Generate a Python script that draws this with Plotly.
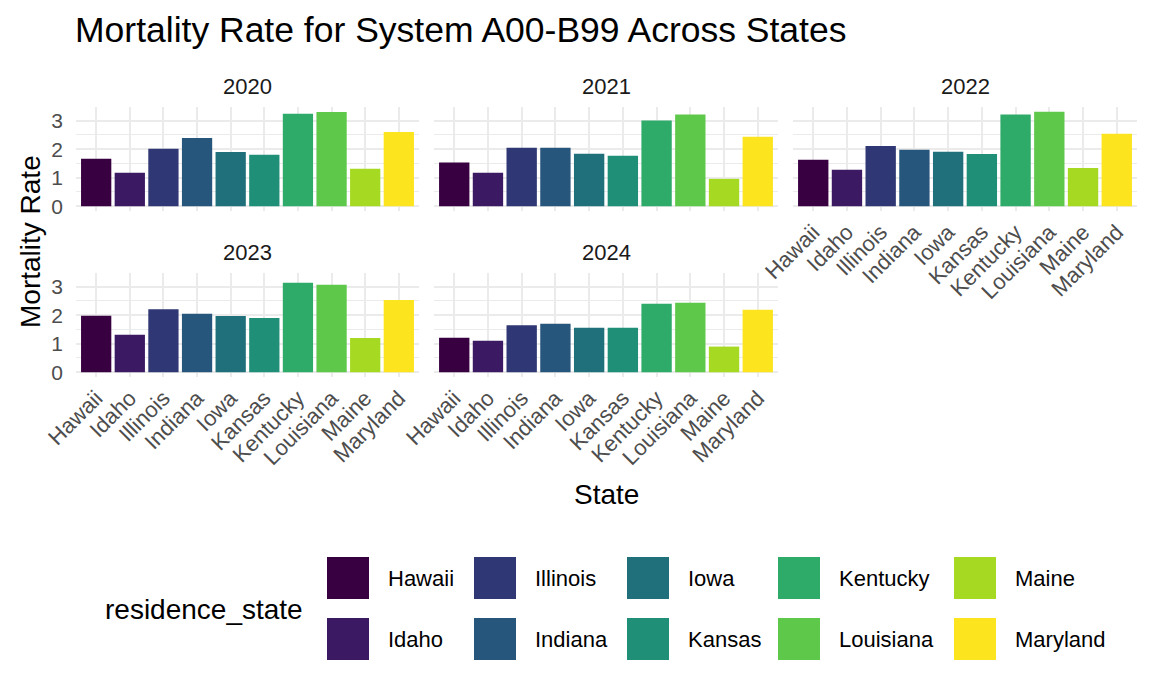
import plotly.graph_objects as go

# ---------------- data ----------------
states = ["Hawaii", "Idaho", "Illinois", "Indiana", "Iowa",
          "Kansas", "Kentucky", "Louisiana", "Maine", "Maryland"]
years = ["2020", "2021", "2022", "2023", "2024"]
rate_2020 = [1.66, 1.17, 2.01, 2.39, 1.90, 1.80, 3.24, 3.30, 1.31, 2.60]
rate_2021 = [1.53, 1.17, 2.05, 2.05, 1.84, 1.77, 3.00, 3.21, 0.96, 2.43]
rate_2022 = [1.63, 1.28, 2.11, 1.98, 1.91, 1.83, 3.21, 3.31, 1.34, 2.54]
rate_2023 = [1.98, 1.31, 2.21, 2.05, 1.97, 1.90, 3.13, 3.06, 1.20, 2.53]
rate_2024 = [1.21, 1.10, 1.65, 1.70, 1.56, 1.56, 2.40, 2.43, 0.90, 2.19]
rates = [rate_2020, rate_2021, rate_2022, rate_2023, rate_2024]
y_ticks = [0, 1, 2, 3]

# ---------------- style ----------------
colors = ["#380041", "#3b1a63", "#2f3774", "#27567c", "#1f707a",
          "#1f8f78", "#2fab69", "#5ec84a", "#a6da22", "#fce51e"]
W, H = 1152, 691
FONT = "Liberation Sans, Arial, Helvetica, sans-serif"
GRID = "#EBEBEB"

col_px = [(76, 419), (434, 778), (793, 1137)]
row_px = [(107, 211), (273, 377)]
panel_pos = [(0, 0), (0, 1), (0, 2), (1, 0), (1, 1)]  # (row, col) for each year

ymax = max(max(r) for r in rates)
y_range = [-0.05 * ymax, ymax * 1.05]

fig = go.Figure()
layout = {}
annotations = []

for i, (yr, vals) in enumerate(zip(years, rates)):
    r, c = panel_pos[i]
    n = i + 1
    xa = "x" if n == 1 else f"x{n}"
    ya = "y" if n == 1 else f"y{n}"
    fig.add_trace(go.Bar(
        x=states, y=vals, xaxis=xa, yaxis=ya,
        marker=dict(color=colors, line=dict(width=0)),
        showlegend=False,
        hovertemplate="%{x}: %{y}<extra>" + yr + "</extra>",
    ))
    x0, x1 = col_px[c]
    t, b = row_px[r]
    has_below = any(p == (r + 1, c) for p in panel_pos)
    layout["xaxis" if n == 1 else f"xaxis{n}"] = dict(
        domain=[x0 / W, x1 / W], anchor=ya, automargin=False,
        type="category", categoryorder="array", categoryarray=states,
        range=[-0.6, len(states) - 0.4],
        showgrid=True, gridcolor=GRID, gridwidth=2,
        showline=False, zeroline=False, ticks="",
        showticklabels=not has_below, tickangle=-45,
        tickfont=dict(family=FONT, size=22, color="#4D4D4D"),
        ticklabelstandoff=3,
        fixedrange=True,
    )
    layout["yaxis" if n == 1 else f"yaxis{n}"] = dict(
        domain=[1 - b / H, 1 - t / H], anchor=xa, automargin=False,
        range=y_range, tickvals=y_ticks,
        showgrid=True, gridcolor=GRID, gridwidth=2,
        minor=dict(dtick=0.5, tick0=0, showgrid=True, gridcolor=GRID, gridwidth=1),
        zeroline=False, showline=False, ticks="",
        showticklabels=(c == 0),
        tickfont=dict(family=FONT, size=21, color="#4D4D4D"),
        ticklabelstandoff=12,
        fixedrange=True,
    )
    annotations.append(dict(
        text=yr, x=(x0 + x1) / 2 / W, y=1 - (t - 21) / H,
        xref="paper", yref="paper", xanchor="center", yanchor="middle",
        showarrow=False, font=dict(family=FONT, size=22, color="#1A1A1A"),
    ))

# axis titles
annotations.append(dict(
    text="State", x=606 / W, y=1 - 494 / H, xref="paper", yref="paper",
    xanchor="center", yanchor="middle", showarrow=False,
    font=dict(family=FONT, size=28, color="black"),
))
annotations.append(dict(
    text="Mortality Rate", x=30 / W, y=1 - 242 / H, xref="paper", yref="paper",
    xanchor="center", yanchor="middle", showarrow=False, textangle=-90,
    font=dict(family=FONT, size=28, color="black"),
))

# legend (drawn manually, ggplot style, column-major 2 rows)
shapes = []
leg_cols_px = [327, 474, 627, 778, 954]
leg_rows_px = [557, 618]
key = 42
annotations.append(dict(
    text="residence_state", x=103 / W, y=1 - 609 / H, xref="paper", yref="paper",
    xanchor="left", yanchor="middle", showarrow=False,
    font=dict(family=FONT, size=28, color="black"),
))
for k, (st, colr) in enumerate(zip(states, colors)):
    cc, rr = k // 2, k % 2
    lx = leg_cols_px[cc]
    ty = leg_rows_px[rr]
    shapes.append(dict(
        type="rect", xref="paper", yref="paper",
        x0=lx / W, x1=(lx + key) / W, y0=1 - (ty + key) / H, y1=1 - ty / H,
        fillcolor=colr, line=dict(width=0),
    ))
    annotations.append(dict(
        text=st, x=(lx + 59) / W, y=1 - (ty + key / 2) / H,
        xref="paper", yref="paper", xanchor="left", yanchor="middle",
        showarrow=False, font=dict(family=FONT, size=22, color="black"),
    ))

fig.update_layout(
    **layout,
    width=W, height=H, autosize=False,
    margin=dict(l=0, r=0, t=0, b=0, pad=0, autoexpand=False),
    paper_bgcolor="white", plot_bgcolor="white",
    bargap=0.1,
    title=dict(text="Mortality Rate for System A00-B99 Across States",
               x=75 / W, xanchor="left", y=1 - 30 / H, yanchor="middle",
               font=dict(family=FONT, size=35.5, color="black"), automargin=False),
    annotations=annotations, shapes=shapes,
    showlegend=False,
)

fig.write_html("out.html", config={"displayModeBar": False})
